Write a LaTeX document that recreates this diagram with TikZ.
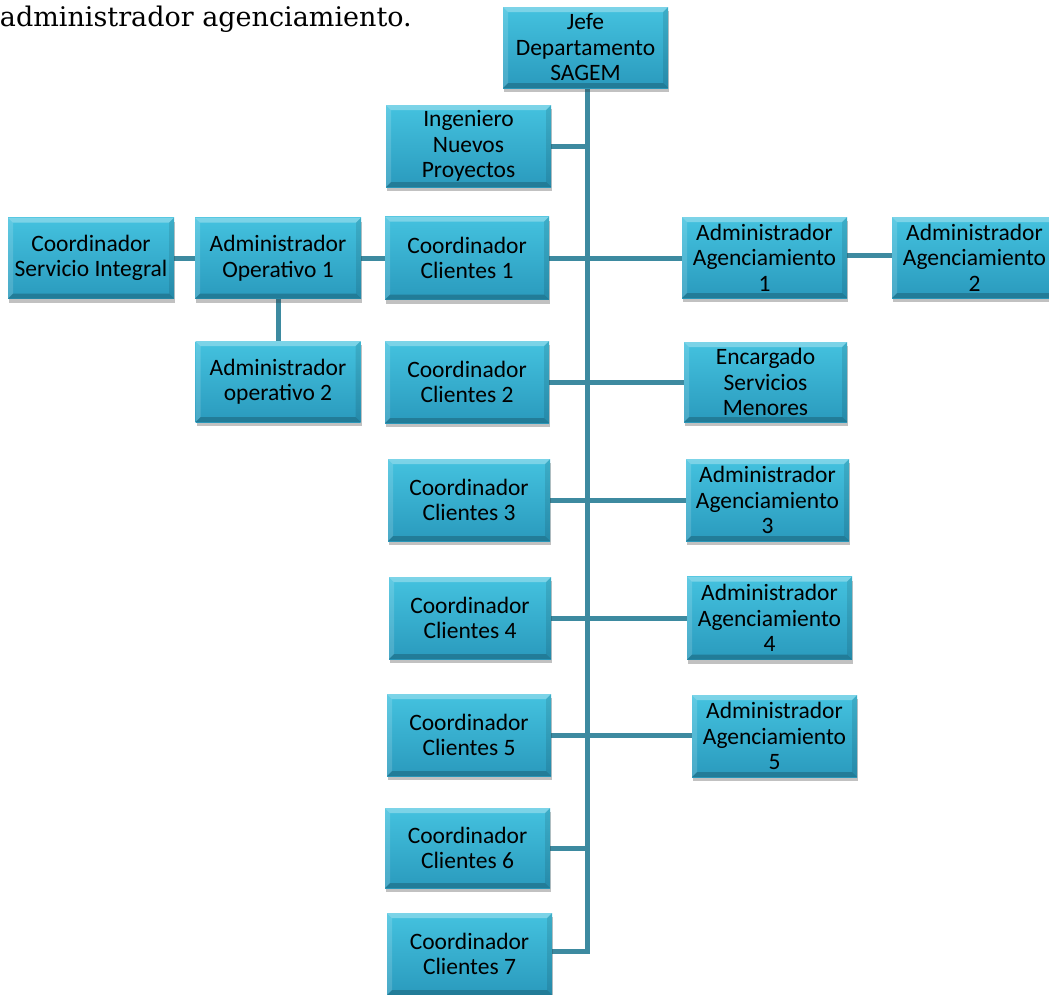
\documentclass[tikz,border=0pt]{standalone}
\usepackage{fontspec}
\setmainfont{Carlito}
\newfontfamily\headfont{DejaVu Serif}
\usetikzlibrary{shadows,backgrounds,calc}

\definecolor{boxtop}{HTML}{44C2DF}
\definecolor{boxbot}{HTML}{2A9ABD}
\definecolor{linkcol}{HTML}{3D8AA0}

\tikzset{
  orgbox/.style={
    minimum width=165pt, minimum height=82pt, inner sep=0pt, align=center,
    top color=boxtop, bottom color=boxbot,
    font=\fontsize{23.5}{25.5}\selectfont,
    drop shadow={opacity=0.3, shadow xshift=1pt, shadow yshift=-4pt, fill=black!80},
    path picture={
      \coordinate (bsw) at (path picture bounding box.south west);
      \coordinate (bse) at (path picture bounding box.south east);
      \coordinate (bnw) at (path picture bounding box.north west);
      \coordinate (bne) at (path picture bounding box.north east);
      % bevelled edges
      \fill[white, opacity=0.3] (bnw) -- (bne) -- ($(bne)+(-5pt,-5pt)$) -- ($(bnw)+(5pt,-5pt)$) -- cycle;
      \fill[white, opacity=0.15] (bnw) -- (bsw) -- ($(bsw)+(5pt,5pt)$) -- ($(bnw)+(5pt,-5pt)$) -- cycle;
      \fill[black, opacity=0.1] (bne) -- (bse) -- ($(bse)+(-5pt,5pt)$) -- ($(bne)+(-5pt,-5pt)$) -- cycle;
      \fill[black, opacity=0.2] (bsw) -- (bse) -- ($(bse)+(-5pt,5pt)$) -- ($(bsw)+(5pt,5pt)$) -- cycle;
    }
  },
  link/.style={draw=linkcol, line width=5pt}
}

\begin{document}
\begin{tikzpicture}[x=1pt, y=-1pt]
\useasboundingbox (0,0) rectangle (1049,994);

\node[anchor=base east, inner sep=0pt, font=\headfont\fontsize{27}{30}\selectfont] (head) at (412,26) {administrador agenciamiento.};

% boxes
\node[orgbox, minimum height=81pt] (jefe) at (585.5,47.5) {Jefe\\Departamento\\SAGEM};
\node[orgbox] (ing) at (468.5,146) {Ingeniero\\Nuevos\\Proyectos};

\node[orgbox, minimum width=166pt, minimum height=81pt] (csi) at (91,258) {Coordinador\\Servicio Integral};
\node[orgbox, minimum width=166pt, minimum height=81pt] (ao1) at (278,258) {Administrador\\Operativo 1};
\node[orgbox, minimum width=164pt, minimum height=83pt] (cc1) at (467,258) {Coordinador\\Clientes 1};
\node[orgbox, minimum height=81pt] (aa1) at (764.5,257.5) {Administrador\\Agenciamiento\\1};
\node[orgbox, minimum height=81pt] (aa2) at (974.5,257.5) {Administrador\\Agenciamiento\\2};

\node[orgbox, minimum height=81pt] (ao2) at (278,381.5) {Administrador\\operativo 2};
\node[orgbox, minimum width=164pt] (cc2) at (467,382) {Coordinador\\Clientes 2};
\node[orgbox, minimum width=163pt, minimum height=80pt] (esm) at (765.5,382) {Encargado\\Servicios\\Menores};

\node[orgbox, minimum width=162pt] (cc3) at (469,500) {Coordinador\\Clientes 3};
\node[orgbox, minimum width=163pt] (aa3) at (767.5,500) {Administrador\\Agenciamiento\\3};

\node[orgbox, minimum width=162pt] (cc4) at (470,618) {Coordinador\\Clientes 4};
\node[orgbox, minimum height=83pt] (aa4) at (769.5,618) {Administrador\\Agenciamiento\\4};

\node[orgbox, minimum width=164pt] (cc5) at (469,735) {Coordinador\\Clientes 5};
\node[orgbox] (aa5) at (774.5,736) {Administrador\\Agenciamiento\\5};

\node[orgbox, minimum height=80pt] (cc6) at (467.5,848) {Coordinador\\Clientes 6};
\node[orgbox] (cc7) at (469.5,954) {Coordinador\\Clientes 7};

% connectors
\coordinate (trunk) at (587,88);
\coordinate (trunkend) at (587,951);
\begin{scope}[on background layer]
  \draw[link] (trunk) -- (trunkend) -- (trunkend -| cc7.east);
  \draw[link] (ing.east) -- (ing.east -| trunk);
  \draw[link] (csi.east) -- (ao1.west);
  \draw[link] (ao1.east) -- (cc1.west);
  \draw[link] (cc1.east) -- (cc1.east -| aa1.west);
  \draw[link] ([yshift=2pt]aa1.east) -- ([yshift=2pt]aa1.east -| aa2.west);
  \draw[link] (ao1.south) -- (ao2.north);
  \draw[link] (cc2.east) -- (esm.west);
  \draw[link] (cc3.east) -- (aa3.west);
  \draw[link] (cc4.east) -- (aa4.west);
  \draw[link] (cc5.east) -- (cc5.east -| aa5.west);
  \draw[link] (cc6.east) -- (cc6.east -| trunk);
\end{scope}
\end{tikzpicture}
\end{document}
